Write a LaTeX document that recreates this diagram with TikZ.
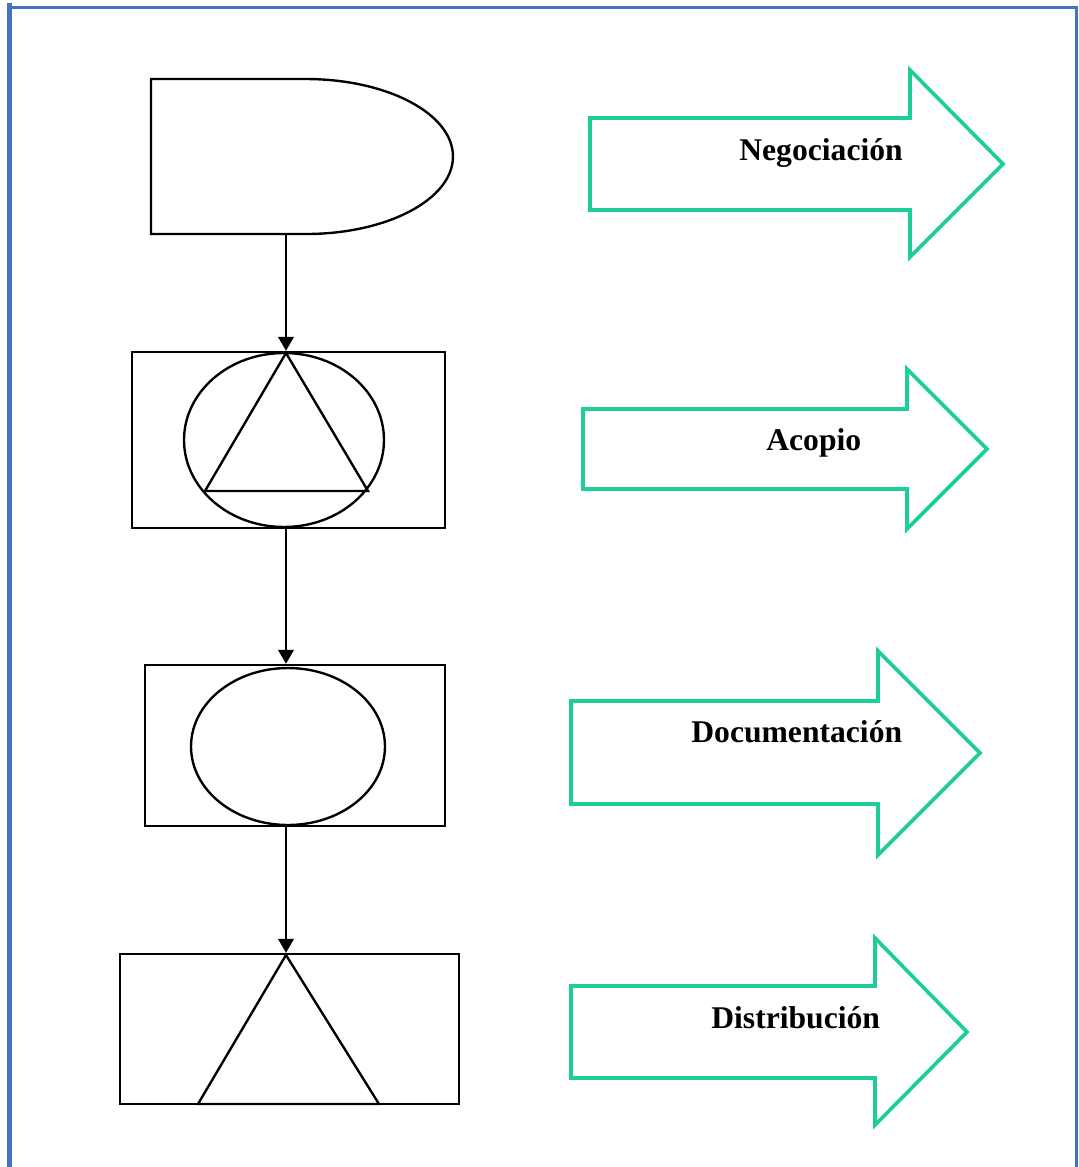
\documentclass[tikz,border=0pt]{standalone}
\usepackage{fontspec}
\setmainfont{Liberation Serif}
\usetikzlibrary{shapes.geometric, positioning, arrows.meta}
\definecolor{marco}{RGB}{68,114,196}
\definecolor{verde}{RGB}{30,206,154}

\begin{document}
\begin{tikzpicture}[x=0.02cm, y=-0.02cm,
  sym/.style={draw, line width=1.35pt, inner sep=0pt},
  caja/.style={sym, rectangle},
  elip/.style={sym, ellipse},
  flecha/.style={draw=verde, line width=2.1pt, line join=miter},
  lbl/.style={font=\fontsize{18}{22}\selectfont\bfseries, inner sep=0pt, anchor=base west},
  borde/.style={draw=marco, line width=3pt},
  >={Triangle[length=2.8mm, width=3.1mm]}]
  \useasboundingbox (0,0) rectangle (1079,1167);
  % marco
  \draw[borde] (9.5,3) -- (9.5,1167);
  \draw[borde, line width=2.2pt] (8,7.5) -- (1076.5,7.5) -- (1076.5,1167);

  % simbolos
  \draw[sym] (306,79) -- (151,79) -- (151,234) -- (306,234)
    arc[start angle=-90, end angle=90, x radius=2.94cm, y radius=1.55cm];
  \coordinate (dem) at (286,234);
  \node[caja, minimum width=6.26cm, minimum height=3.52cm] (ins) at (288.5,440) {};
  \node[elip, minimum width=4cm, minimum height=3.48cm] (insc) at (284,440) {};
  \draw[sym] (286,353) -- (205,491) -- (368,491) -- cycle;
  \node[caja, minimum width=6cm, minimum height=3.22cm] (ope) at (295,745.5) {};
  \node[elip, minimum width=3.88cm, minimum height=3.14cm] (opec) at (288,746.5) {};
  \node[caja, minimum width=6.78cm, minimum height=3cm] (alm) at (289.5,1029) {};
  \draw[sym] (286,955) -- (198,1104) -- (379,1104) -- cycle;

  \draw[->, line width=1.35pt] (dem) -- (dem |- ins.north);
  \draw[->, line width=1.35pt] (dem |- ins.south) -- (dem |- ope.north);
  \draw[->, line width=1.35pt] (dem |- ope.south) -- (dem |- alm.north);

  % flechas verdes
  \draw[flecha] (590,118) -- (910,118) -- (910,70) -- (1003,164) -- (910,257) -- (910,210) -- (590,210) -- cycle;
  \draw[flecha] (583,409) -- (907,409) -- (907,369) -- (987,449) -- (907,529) -- (907,489) -- (583,489) -- cycle;
  \draw[flecha] (571,701) -- (878,701) -- (878,651) -- (980,753) -- (878,855) -- (878,804) -- (571,804) -- cycle;
  \draw[flecha] (571,986) -- (875,986) -- (875,938) -- (967,1032) -- (875,1125) -- (875,1078) -- (571,1078) -- cycle;
  \node[lbl] (neg) at (739,160) {Negociación};
  \node[lbl] (aco) at (766,450) {Acopio};
  \node[lbl] (doc) at (691,742) {Documentación};
  \node[lbl] (dis) at (711,1028) {Distribución};
\end{tikzpicture}
\end{document}
